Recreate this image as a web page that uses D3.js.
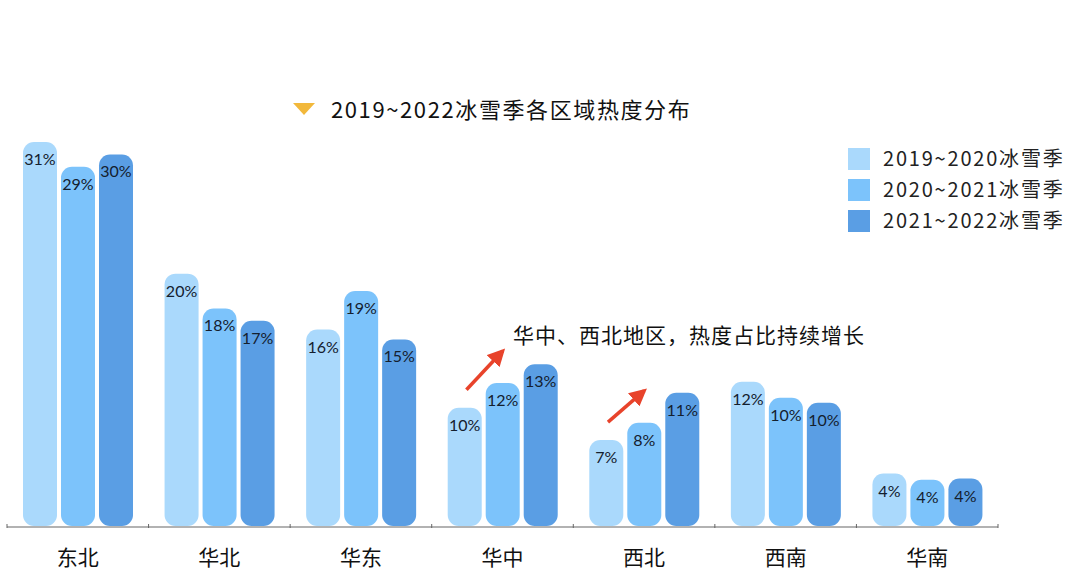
<!DOCTYPE html>
<html>
  <head>
    <meta charset="utf-8">
    <style>
      body { margin: 0; background: #fff; }
      text { font-family: "Noto Sans CJK SC", "Noto Sans", sans-serif; }
    </style>
    <title>冰雪季各区域热度分布</title>
  </head>
  <body>
  <div id="viz-wrapper"></div>
  <script src="https://cdnjs.cloudflare.com/ajax/libs/d3/7.8.5/d3.min.js" charset="utf-8"></script>
  <script type="text/javascript">

    // data (percent share of heat per region)
    var regions = ['东北', '华北', '华东', '华中', '西北', '西南', '华南'];
    var seasons = ['2019~2020冰雪季', '2020~2021冰雪季', '2021~2022冰雪季'];
    var s2019 = [31, 20.4, 15.9, 9.6, 7.0, 11.7, 4.3];
    var s2020 = [29, 17.6, 19.0, 11.6, 8.4, 10.4, 3.8];
    var s2021 = [30, 16.6, 15.1, 13.1, 10.8, 10.0, 3.9];
    var colors = ['#aad9fc', '#7cc3fb', '#5a9ee4'];

    var title = '2019~2022冰雪季各区域热度分布';
    var note = '华中、西北地区，热度占比持续增长';

    var width = 1080;
    var height = 574;
    var axisY = 527;

    var series = [s2019, s2020, s2021];

    var svg = d3.select('#viz-wrapper')
                .append('svg')
                .attr('width', width)
                .attr('height', height);

    var x = d3.scaleBand()
              .domain(regions)
              .range([7, 998]);

    var x1 = d3.scaleBand()
               .domain(d3.range(seasons.length))
               .range([16, 126])
               .paddingInner(0.105);

    var y = d3.scaleLinear()
              .domain([0, 31])
              .range([axisY, 142]);

    // bars
    var groups = svg.selectAll('g.region')
                    .data(regions)
                    .enter()
                    .append('g')
                    .attr('class', 'region')
                    .attr('transform', function(d) { return 'translate(' + x(d) + ',0)'; });

    groups.selectAll('rect')
          .data(function(d, i) { return series.map(function(s, k) { return {k: k, v: s[i]}; }); })
          .enter()
          .append('rect')
          .attr('x', function(d) { return x1(d.k); })
          .attr('y', function(d) { return y(d.v); })
          .attr('width', x1.bandwidth())
          .attr('height', function(d) { return axisY - 1 - y(d.v); })
          .attr('rx', 11)
          .attr('ry', 11)
          .style('fill', function(d) { return colors[d.k]; });

    groups.selectAll('text.val')
          .data(function(d, i) { return series.map(function(s, k) { return {k: k, v: s[i]}; }); })
          .enter()
          .append('text')
          .attr('class', 'val')
          .attr('x', function(d) { return x1(d.k) + x1.bandwidth() / 2; })
          .attr('y', function(d) { return y(d.v) + 23; })
          .attr('text-anchor', 'middle')
          .style('font-family', 'Lato, "Noto Sans", sans-serif')
          .style('font-size', '16px')
          .style('fill', '#14202e')
          .text(function(d) { return Math.round(d.v) + '%'; });

    // axis line with ticks on the band edges
    svg.append('line')
       .attr('x1', x.range()[0]).attr('x2', x.range()[1])
       .attr('y1', axisY).attr('y2', axisY)
       .style('stroke', '#666').style('stroke-width', 1.2);

    var edges = regions.map(function(d) { return x(d); }).concat([x.range()[1]]);
    svg.selectAll('line.tick')
       .data(edges)
       .enter()
       .append('line')
       .attr('class', 'tick')
       .attr('x1', function(d) { return d; }).attr('x2', function(d) { return d; })
       .attr('y1', axisY - 3).attr('y2', axisY + 1)
       .style('stroke', '#666').style('stroke-width', 1);

    svg.selectAll('text.cat')
       .data(regions)
       .enter()
       .append('text')
       .attr('class', 'cat')
       .attr('x', function(d) { return x(d) + x.bandwidth() / 2; })
       .attr('y', 565)
       .attr('text-anchor', 'middle')
       .style('font-size', '21px')
       .style('font-weight', 400)
       .style('fill', '#111')
       .text(function(d) { return d; });

    // title
    svg.append('path')
       .attr('d', 'M293,103 L315,103 L304,115 Z')
       .style('fill', '#f2b83b');
    svg.append('text')
       .attr('x', 331).attr('y', 118)
       .style('font-size', '22px')
       .style('letter-spacing', '1.6px')
       .style('fill', '#111')
       .text(title);

    // legend
    var legend = svg.selectAll('g.legend')
                    .data(seasons)
                    .enter()
                    .append('g')
                    .attr('class', 'legend')
                    .attr('transform', function(d, i) { return 'translate(848,' + (148 + i * 31) + ')'; });
    legend.append('rect')
          .attr('width', 22).attr('height', 22)
          .style('fill', function(d, i) { return colors[i]; });
    legend.append('text')
          .attr('x', 35).attr('y', 18)
          .style('font-size', '20px')
          .style('letter-spacing', '1.8px')
          .style('fill', '#222')
          .text(function(d) { return d; });

    // annotation arrows, placed off the 华中 / 西北 bars
    var defs = svg.append('defs');
    defs.append('marker')
        .attr('id', 'head')
        .attr('viewBox', '0 0 10 10')
        .attr('refX', 8).attr('refY', 5)
        .attr('markerWidth', 5).attr('markerHeight', 5)
        .attr('orient', 'auto')
        .append('path')
        .attr('d', 'M0,0 L10,5 L0,10 Z')
        .style('fill', '#e8432b');

    ['华中', '西北'].forEach(function(r) {
      var i = regions.indexOf(r);
      var bw = x1.bandwidth();
      svg.append('line')
         .attr('x1', x(r) + x1(0) + bw * 0.55)
         .attr('y1', y(s2019[i]) - 18)
         .attr('x2', x(r) + x1(1) + bw * 0.5)
         .attr('y2', y(s2020[i]) - 32)
         .style('stroke', '#e8432b')
         .style('stroke-width', 3.5)
         .attr('marker-end', 'url(#head)');
    });

    svg.append('text')
       .attr('x', 513).attr('y', 343)
       .style('font-size', '21px')
       .style('letter-spacing', '1px')
       .style('fill', '#111')
       .text(note);

  </script>
  </body>
</html>
